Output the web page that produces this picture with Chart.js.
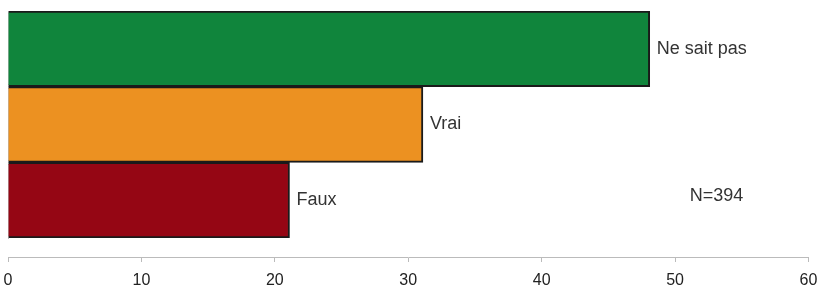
<!DOCTYPE html>
<html>
<head>
<meta charset="utf-8">
<script src="https://cdn.jsdelivr.net/npm/chart.js@4"></script>
<style>
  html, body { margin: 0; padding: 0; background: #fff; }
  #wrap { width: 819px; height: 289px; }
</style>
</head>
<body>
<div id="wrap"><canvas id="myChart" width="819" height="289"></canvas></div>
<script>
const labels = ['Ne sait pas', 'Vrai', 'Faux'];
const values = [48.1, 31.1, 21.1];
const colors = ['#10853c', '#ec9121', '#950614'];
const xTicks = [0, 10, 20, 30, 40, 50, 60];
const note = 'N=394';
const noteAt = [53.1, 'Faux'];

// category name written at the end of each bar
const barLabels = {
    id: 'barLabels',
    afterDatasetsDraw(chart) {
        const ctx = chart.ctx;
        const meta = chart.getDatasetMeta(0);
        ctx.save();
        ctx.font = '18px "Liberation Sans", Arial, sans-serif';
        ctx.fillStyle = '#333';
        ctx.textBaseline = 'middle';
        ctx.textAlign = 'left';
        meta.data.forEach(function (bar, i) {
            ctx.fillText(labels[i], bar.x + 7, bar.y);
        });
        const x = chart.scales.x.getPixelForValue(noteAt[0]);
        const y = chart.scales.y.getPixelForValue(labels.indexOf(noteAt[1]));
        ctx.textAlign = 'center';
        ctx.fillText(note, x, y - 4);
        ctx.restore();
    }
};

function noSidePadding(scale) {
    scale.paddingLeft = 0;
    scale.paddingRight = 0;
}

const data = {
    labels: labels,
    datasets: [{
        data: values,
        xAxisID: 'x',
        yAxisID: 'y',
        backgroundColor: colors,
        borderColor: '#1a1a1a',
        borderWidth: 2,
        barPercentage: 1,
        categoryPercentage: 1
    }]
};

const config = {
    type: 'bar',
    data: data,
    options: {
        indexAxis: 'y',
        responsive: false,
        animation: false,
        devicePixelRatio: 1,
        layout: { padding: { top: 11, left: 8, right: 10.5, bottom: 0 } },
        plugins: { legend: { display: false }, tooltip: { enabled: false } },
        scales: {
            y: {
                grid: { display: false },
                ticks: { display: false },
                border: { display: true, color: '#bbb', width: 1 },
                afterFit(scale) { scale.width = 0; scale.paddingTop = 0; scale.paddingBottom = 0; }
            },
            gap: {
                type: 'linear',
                position: 'bottom',
                weight: 0,
                grid: { display: false },
                ticks: { display: false },
                border: { display: false },
                afterFit(scale) { scale.height = 19; noSidePadding(scale); }
            },
            x: {
                type: 'linear',
                position: 'bottom',
                weight: 1,
                min: 0,
                max: 60,
                afterBuildTicks(scale) {
                    scale.ticks = xTicks.map(function (v) { return { value: v }; });
                },
                grid: {
                    drawOnChartArea: false,
                    drawTicks: true,
                    tickLength: 5,
                    color: '#bbb'
                },
                border: { display: true, color: '#bbb', width: 1 },
                ticks: {
                    padding: 9,
                    color: '#222',
                    font: { family: '"Liberation Sans", Arial, sans-serif', size: 16 }
                },
                afterFit(scale) { scale.height = 32; noSidePadding(scale); }
            }
        }
    },
    plugins: [barLabels]
};

const myChart = new Chart(document.getElementById('myChart'), config);
</script>
</body>
</html>
